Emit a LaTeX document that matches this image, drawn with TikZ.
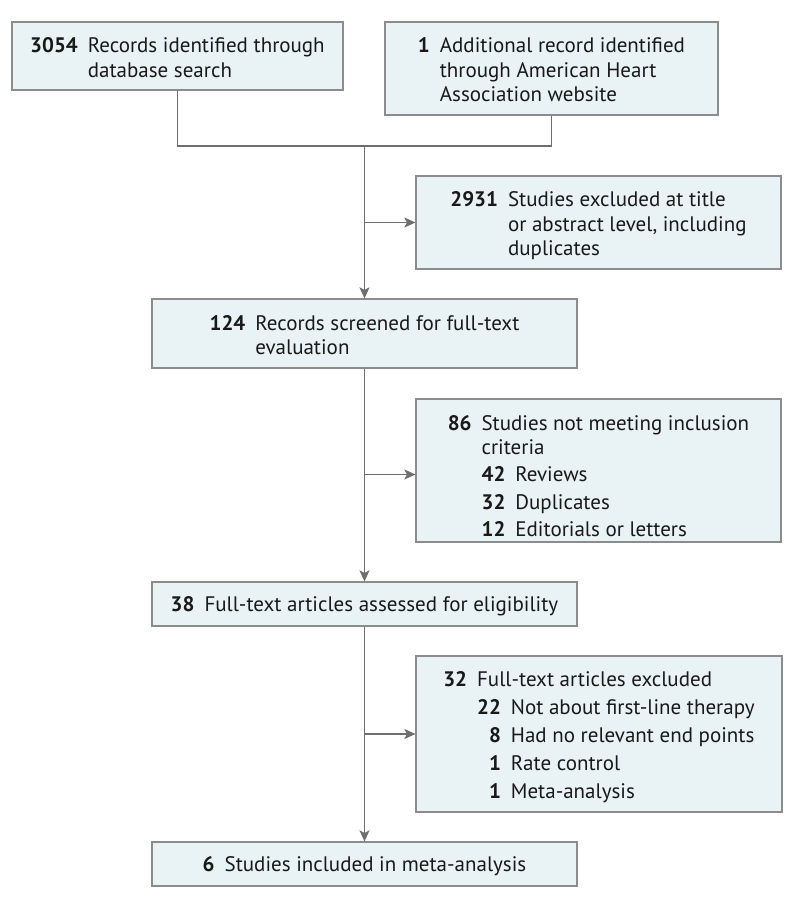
\documentclass[tikz,border=0pt]{standalone}
\usepackage{fontspec}
\setmainfont{PT Sans}
\usetikzlibrary{arrows.meta}
\definecolor{boxfill}{RGB}{233,242,244}
\definecolor{boxline}{RGB}{140,140,140}
\definecolor{conline}{RGB}{110,110,110}
\definecolor{txt}{RGB}{25,25,25}
\newcommand\numb[1]{\textbf{#1}}
\tikzset{
  x=1pt, y=-1pt,
  flowbox/.style={draw=boxline, fill=boxfill, line width=1.2pt, inner sep=0pt},
  boxtext/.style={inner sep=0pt, text=txt, font=\fontsize{21}{24.5}\selectfont, align=left},
  conn/.style={draw=conline, line width=1.3pt},
  arr/.style={conn, -{Stealth[length=11pt,width=10pt,inset=2.5pt]}},
}
\begin{document}
\begin{tikzpicture}
\useasboundingbox (0,0) rectangle (794,906);
% boxes
\node[flowbox, minimum width=331pt, minimum height=68pt] (A) at (177.5,56) {};
\node[boxtext] (At) at ([yshift=-4pt]A.center)
  {\begin{tabular}{@{}r@{\hspace{10pt}}l@{}}
   \numb{3054} & Records identified through\\
               & database search
   \end{tabular}};
\node[flowbox, minimum width=333pt, minimum height=93pt] (B) at (551.5,68.5) {};
\node[boxtext] (Bt) at ([yshift=-4pt]B.center)
  {\begin{tabular}{@{}r@{\hspace{10pt}}l@{}}
   \numb{1} & Additional record identified\\
            & through American Heart\\
            & Association website
   \end{tabular}};
\node[flowbox, minimum width=365pt, minimum height=93pt] (C) at (598.5,222.5) {};
\node[boxtext] (Ct) at ([yshift=-4pt]C.center)
  {\begin{tabular}{@{}r@{\hspace{10pt}}l@{}}
   \numb{2931} & Studies excluded at title\\
               & or abstract level, including\\
               & duplicates
   \end{tabular}};
\node[flowbox, minimum width=425pt, minimum height=69pt] (D) at (364.5,333.5) {};
\node[boxtext] (Dt) at ([yshift=-4pt]D.center)
  {\begin{tabular}{@{}r@{\hspace{10pt}}l@{}}
   \numb{124} & Records screened for full-text\\
              & evaluation
   \end{tabular}};
\node[flowbox, minimum width=365pt, minimum height=143pt] (E) at (598.5,470.5) {};
\node[boxtext] (Et) at ([yshift=-8pt]E.center)
  {\begin{tabular}{@{}r@{\hspace{10pt}}r@{\hspace{10pt}}l@{}}
   \numb{86} & \multicolumn{2}{@{}l@{}}{Studies not meeting inclusion}\\
             & \multicolumn{2}{@{}l@{}}{criteria}\\[2.5pt]
             & \numb{42} & Reviews\\[3pt]
             & \numb{32} & Duplicates\\[3pt]
             & \numb{12} & Editorials or letters
   \end{tabular}};
\node[flowbox, minimum width=425pt, minimum height=44pt] (F) at (364.5,604) {};
\node[boxtext] (Ft) at ([yshift=-3pt]F.center)
  {\begin{tabular}{@{}r@{\hspace{10pt}}l@{}}
   \numb{38} & Full-text articles assessed for eligibility
   \end{tabular}};
\node[flowbox, minimum width=366pt, minimum height=156pt] (G) at (599,734) {};
\node[boxtext] (Gt) at ([yshift=-4pt]G.center)
  {\begin{tabular}{@{}r@{\hspace{10pt}}r@{\hspace{10pt}}l@{}}
   \numb{32} & \multicolumn{2}{@{}l@{}}{Full-text articles excluded}\\[3.5pt]
             & \numb{22} & Not about first-line therapy\\[3.5pt]
             & \numb{8} & Had no relevant end points\\[3.5pt]
             & \numb{1} & Rate control\\[3.5pt]
             & \numb{1} & Meta-analysis
   \end{tabular}};
\node[flowbox, minimum width=425pt, minimum height=44pt] (H) at (364.5,864) {};
\node[boxtext] (Ht) at ([yshift=-3pt]H.center)
  {\begin{tabular}{@{}r@{\hspace{10pt}}l@{}}
   \numb{6} & Studies included in meta-analysis
   \end{tabular}};
% connectors
\coordinate (m) at (364.5,146);
\path ([yshift=-4pt]E.west) coordinate (ein);
\draw[conn] (A.south) |- (m) -| (B.south);
\draw[arr] (m) -- (D.north);
\draw[arr] (m |- C.west) -- (C.west);
\draw[arr] (D.south) -- (F.north);
\draw[arr] (D.south |- ein) -- (ein);
\draw[arr] (F.south) -- (H.north);
\draw[arr] (F.south |- G.west) -- (G.west);
\end{tikzpicture}
\end{document}
